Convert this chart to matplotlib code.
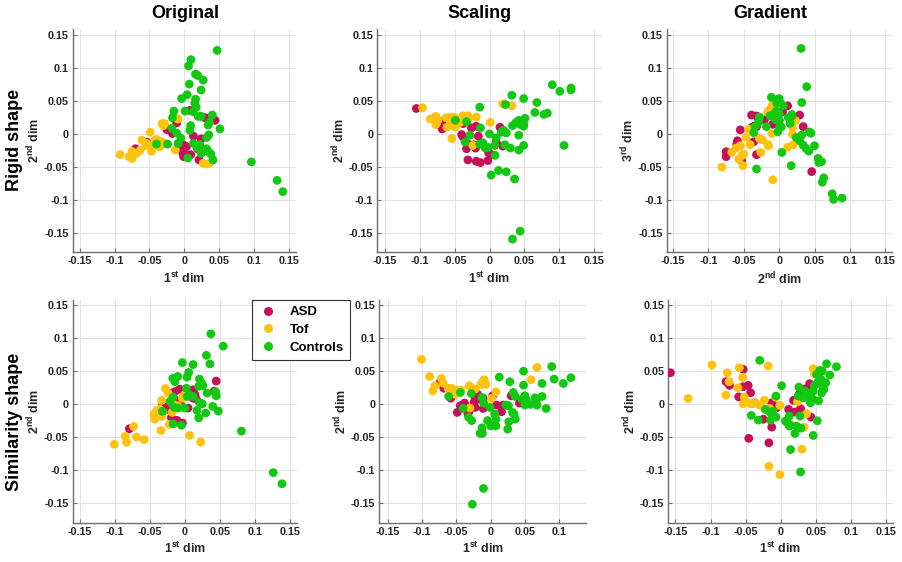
import matplotlib
matplotlib.use("Agg")
import matplotlib.pyplot as plt
from matplotlib.lines import Line2D
import numpy as np

plt.rcParams['font.family'] = ['Liberation Sans', 'DejaVu Sans']
plt.rcParams['mathtext.fontset'] = 'custom'
plt.rcParams['mathtext.rm'] = 'Liberation Sans:bold'
plt.rcParams['mathtext.bf'] = 'Liberation Sans:bold'
plt.rcParams['mathtext.it'] = 'Liberation Sans:bold'

# ---------------- data ----------------
GROUPS = ["ASD", "Tof", "Controls"]
COLORS = ["#C5115C", "#FFC20E", "#12C812"]
COL_TITLES = ["Original", "Scaling", "Gradient"]
ROW_TITLES = ["Rigid shape", "Similarity shape"]
TICKS = [-0.15, -0.1, -0.05, 0, 0.05, 0.1, 0.15]
TICK_LABELS = ["-0.15", "-0.1", "-0.05", "0", "0.05", "0.1", "0.15"]

# Rigid shape / Original
rig_orig_asd = [(0.008,0.035),(0.030,0.024),(0.044,0.020),(-0.011,0.016),(-0.025,0.006),(-0.017,0.000),
    (0.024,-0.008),(0.013,-0.004),(0.000,-0.018),(-0.004,-0.022),(-0.002,-0.030),(0.001,-0.032),
    (-0.001,-0.035),(0.009,-0.032),(0.019,-0.023),(0.024,-0.023),(0.021,-0.040),(-0.054,-0.013),
    (-0.050,-0.017),(-0.040,-0.016),(-0.070,-0.023),(-0.030,-0.015),(0.003,-0.020)]
rig_orig_tof = [(-0.092,-0.032),(-0.079,-0.035),(-0.075,-0.038),(-0.075,-0.027),(-0.068,-0.030),
    (-0.063,-0.025),(-0.061,-0.010),(-0.055,-0.018),(-0.049,0.002),(-0.048,-0.018),(-0.047,-0.027),
    (-0.042,-0.010),(-0.033,-0.012),(-0.035,-0.020),(-0.032,0.015),(-0.028,0.015),(-0.030,0.012),
    (-0.013,-0.025),(-0.011,0.023),(-0.009,0.022),(0.027,-0.045),(0.032,-0.046),(0.036,-0.045),
    (-0.040,-0.009),(-0.036,-0.020),(-0.054,-0.015)]
rig_orig_ctl = [(0.047,0.126),(0.0095,0.112),(0.006,0.1025),(0.016,0.090),(0.019,0.088),(0.027,0.081),
    (0.007,0.075),(0.024,0.066),(-0.004,0.053),(0.004,0.059),(0.016,0.052),(0.015,0.046),(0.017,0.040),
    (0.001,0.034),(-0.015,0.034),(0.013,0.033),(0.020,0.026),(0.024,0.026),(0.040,0.028),(-0.017,0.024),
    (0.036,0.017),(0.034,0.013),(0.051,0.007),(0.009,0.012),(0.008,0.005),(-0.018,0.008),(-0.011,0.0005),
    (-0.005,-0.007),(0.032,-0.006),(0.035,-0.002),(-0.024,-0.016),(0.013,-0.015),(0.022,-0.017),
    (0.018,-0.021),(0.032,-0.023),(0.024,-0.030),(0.034,-0.027),(0.038,-0.031),(0.041,-0.040),
    (0.005,-0.037),(-0.040,-0.016),(-0.009,-0.015),(0.096,-0.043),(0.133,-0.071),(0.141,-0.088)]

# Rigid shape / Scaling
rig_scal_asd = [(-0.105,0.038),(-0.066,0.019),(-0.068,0.007),(-0.038,0.015),(-0.040,-0.0015),(-0.038,-0.005),
    (-0.026,0.0086),(-0.019,0.011),(-0.032,-0.015),(-0.033,-0.023),(-0.023,-0.017),(-0.020,-0.022),
    (-0.031,-0.040),(-0.019,-0.042),(-0.013,-0.044),(-0.0024,-0.041),(-0.0014,-0.029),(0.0024,-0.032),
    (0.015,0.0096),(0.019,-0.019),(0.0096,-0.013),(-0.016,-0.004),(-0.048,0.021)]
rig_scal_tof = [(-0.096,0.039),(-0.085,0.022),(-0.077,0.026),(-0.074,0.020),(-0.077,0.0136),(-0.062,0.024),
    (-0.057,0.020),(-0.056,0.025),(-0.050,0.024),(-0.053,0.0136),(-0.049,0.010),(-0.048,0.016),
    (-0.038,0.027),(-0.031,0.027),(-0.030,0.023),(-0.019,0.025),(-0.054,-0.0076),(-0.061,0.0096),
    (0.001,0.017),(0.019,0.045),(0.032,0.042),(-0.024,-0.018),(-0.042,0.017),(-0.039,0.022)]
rig_scal_ctl = [(0.090,0.074),(0.101,0.064),(0.117,0.069),(0.117,0.066),(0.032,0.058),(0.049,0.053),
    (0.068,0.047),(0.023,0.044),(-0.014,0.040),(0.065,0.032),(0.078,0.029),(0.083,0.031),(0.051,0.023),
    (0.042,0.020),(0.038,0.017),(0.033,0.012),(0.043,0.014),(0.049,0.011),(0.049,0.015),(-0.033,0.018),
    (0.020,0.005),(0.017,0.002),(0.024,0.001),(-0.013,0.0086),(-0.028,-0.0025),(0.000,-0.0005),
    (0.042,-0.0025),(0.0096,-0.0066),(-0.035,-0.013),(-0.014,-0.016),(-0.0096,-0.014),(-0.006,-0.022),
    (-0.002,-0.021),(0.0077,-0.018),(0.022,-0.017),(0.030,-0.022),(0.049,-0.018),(0.042,-0.025),
    (0.008,-0.033),(0.107,-0.018),(0.0024,-0.063),(0.013,-0.056),(0.024,-0.058),(0.036,-0.069),
    (0.044,-0.148),(0.033,-0.160),(-0.049,0.020)]

# Rigid shape / Gradient
rig_grad_asd = [(0.012,0.042),(0.0047,0.033),(0.029,0.028),(0.034,0.0105),(0.0165,0.014),(-0.009,0.014),
    (-0.021,0.0206),(-0.014,0.034),(-0.039,0.028),(-0.032,0.0266),(-0.030,0.024),(-0.039,0.009),
    (-0.035,0.0115),(-0.032,0.0105),(-0.036,-0.0125),(-0.055,0.0055),(-0.059,-0.011),(-0.060,-0.016),
    (-0.075,-0.0276),(-0.075,-0.035),(-0.032,-0.032),(-0.053,-0.041),(0.046,-0.0577)]
rig_grad_tof = [(-0.081,-0.051),(-0.067,-0.0286),(-0.057,-0.0386),(-0.053,-0.0336),(-0.050,-0.031),
    (-0.051,-0.0487),(-0.055,-0.0186),(-0.047,-0.006),(-0.043,0.0065),(-0.037,0.0055),(-0.041,-0.017),
    (-0.028,-0.0075),(-0.024,-0.0095),(-0.026,-0.0286),(-0.016,-0.0166),(-0.015,-0.0186),(-0.010,0.000),
    (-0.016,0.0326),(-0.010,0.0426),(-0.004,0.0517),(-0.009,-0.0702),(0.012,-0.021),(0.020,-0.017),
    (0.019,-0.001),(0.023,0.0196),(0.019,0.009),(-0.061,-0.022)]
rig_grad_ctl = [(0.031,0.129),(0.039,0.071),(0.032,0.047),(-0.011,0.055),(0.000,0.053),(0.0014,0.047),
    (-0.0033,0.046),(0.006,0.042),(-0.013,0.027),(-0.008,0.029),(-0.018,0.0105),(-0.004,0.034),
    (0.000,0.030),(-0.009,0.026),(-0.005,0.021),(0.0005,0.020),(0.0014,0.0115),(-0.002,0.0025),
    (0.013,0.024),(0.018,0.026),(0.018,0.029),(0.003,0.010),(0.0155,0.0155),(-0.028,0.025),
    (-0.029,0.0175),(-0.034,0.0105),(-0.036,0.0015),(0.032,-0.002),(0.024,-0.006),(0.029,-0.011),
    (0.034,-0.0176),(0.038,-0.0226),(0.042,-0.0266),(0.043,0.0025),(0.045,0.0005),(0.050,-0.0186),
    (0.055,-0.0376),(0.056,-0.0437),(0.060,-0.0426),(0.0038,-0.0286),(0.017,-0.0487),(-0.032,-0.0537),
    (0.061,-0.0738),(0.063,-0.0672),(0.075,-0.0913),(0.077,-0.0998),(0.089,-0.0978)]

# Similarity shape / Original
sim_orig_asd = [(0.045,0.035),(0.042,0.0197),(-0.007,0.0227),(-0.0185,0.0167),(-0.014,0.019),(0.012,0.0217),
    (0.0147,0.014),(0.012,0.009),(0.0166,0.0076),(-0.032,-0.0025),(-0.0166,0.0015),(-0.012,0.0055),
    (-0.0085,-0.0035),(-0.0057,-0.001),(0.0047,-0.006),(-0.019,-0.0207),(-0.0166,-0.0237),(-0.011,-0.0247),
    (-0.0033,-0.0288),(-0.079,-0.0374),(-0.0237,-0.0086),(-0.027,-0.005)]
sim_orig_tof = [(-0.1005,-0.061),(-0.083,-0.058),(-0.085,-0.049),(-0.073,-0.034),(-0.069,-0.050),
    (-0.058,-0.054),(-0.034,-0.040),(-0.044,-0.016),(-0.0427,-0.0227),(-0.040,-0.0096),(-0.033,-0.0187),
    (-0.031,-0.0126),(-0.033,0.0055),(-0.0275,0.0237),(-0.0237,0.0167),(-0.022,-0.031),(-0.018,-0.0126),
    (-0.0175,0.0015),(0.000,0.014),(-0.0033,0.009),(0.007,-0.0475),(0.0227,-0.0576),(-0.010,-0.0025),
    (-0.036,-0.0076)]
sim_orig_ctl = [(0.0374,0.1066),(0.055,0.088),(0.031,0.074),(0.036,0.061),(-0.0033,0.063),(0.012,0.060),
    (0.0057,0.048),(0.0033,0.041),(-0.017,0.039),(-0.014,0.034),(-0.010,0.042),(0.021,0.038),(0.024,0.032),
    (0.026,0.028),(0.0024,0.024),(0.0062,0.014),(0.0033,0.0116),(0.020,0.027),(0.032,0.0167),(0.044,0.019),
    (0.045,0.0126),(0.021,0.0025),(0.025,0.0005),(0.0175,-0.0096),(0.030,-0.0136),(0.040,-0.0035),
    (0.048,-0.0106),(0.020,-0.021),(-0.0047,-0.032),(-0.0166,-0.030),(-0.015,-0.005),(-0.0095,-0.006),
    (-0.021,0.004),(-0.0166,0.0106),(-0.032,-0.011),(0.000,-0.006),(0.012,0.0116),(0.081,-0.041),
    (0.1265,-0.104),(0.139,-0.121)]

# Similarity shape / Scaling
sim_scal_asd = [(-0.073,0.034),(-0.068,0.0242),(-0.058,0.009),(-0.044,-0.0025),(-0.0485,-0.0126),
    (-0.033,-0.0146),(-0.031,-0.0106),(-0.038,0.0015),(-0.024,0.0136),(-0.0225,0.006),(-0.019,0.015),
    (-0.018,0.0076),(-0.024,0.0025),(-0.0225,-0.005),(-0.0108,-0.0066),(-0.0108,0.009),(0.003,0.0126),
    (0.0088,-0.0015),(0.016,-0.0116),(0.0186,-0.0015),(0.030,0.0126),(0.042,0.0015)]
sim_scal_tof = [(-0.1005,0.068),(-0.0887,0.042),(-0.081,0.0278),(-0.084,0.0202),(-0.0716,0.0389),
    (-0.069,0.0318),(-0.0618,0.0237),(-0.057,0.024),(-0.054,0.0187),(-0.051,0.0217),(-0.048,0.0177),
    (-0.031,0.0278),(-0.0265,0.0237),(-0.0225,0.0227),(-0.0142,0.030),(-0.0093,0.037),(-0.0069,0.030),
    (-0.0108,0.035),(0.0078,0.0187),(0.0015,0.0086),(-0.043,0.0212),(-0.030,-0.006),(0.059,0.037),
    (0.0676,0.0556),(-0.051,0.015)]
sim_scal_ctl = [(-0.061,0.0116),(-0.044,0.0177),(-0.040,-0.0066),(-0.032,-0.020),(-0.0275,-0.025),
    (-0.028,0.016),(-0.0127,0.010),(-0.010,0.0015),(-0.0152,-0.0444),(-0.0118,-0.0444),(-0.0123,-0.036),
    (-0.0044,-0.025),(0.0005,-0.033),(-0.001,-0.005),(0.0059,-0.015),(0.0078,-0.0227),(0.0078,-0.033),
    (0.0127,0.041),(0.0225,-0.0015),(0.026,-0.0025),(0.0265,-0.0268),(0.032,-0.0126),(0.034,-0.015),
    (0.036,-0.0227),(0.025,-0.038),(0.028,0.034),(0.033,0.0177),(0.036,0.0116),(0.048,0.050),
    (0.048,0.0288),(0.050,0.0126),(0.052,0.0066),(0.050,-0.0015),(0.046,0.0076),(0.0647,0.0096),
    (0.0667,0.0066),(0.0676,-0.0015),(0.075,0.0116),(0.075,0.0313),(0.081,-0.0066),(0.089,0.057),
    (0.0926,0.0379),(0.106,0.0313),(0.117,0.040),(0.058,-0.0005),(-0.0103,-0.128),(-0.0265,-0.152)]

# Similarity shape / Gradient
sim_grad_asd = [(-0.157,0.0476),(-0.078,0.034),(-0.073,0.0284),(-0.060,0.011),(-0.0535,0.0527),
    (-0.0535,0.0264),(-0.0465,0.0284),(-0.043,0.0172),(-0.0456,-0.052),(-0.037,0.002),(-0.025,-0.023),
    (-0.013,0.002),(-0.011,-0.0005),(-0.014,-0.007),(-0.013,-0.035),(-0.017,-0.0588),(-0.006,-0.0056),
    (0.011,-0.008),(0.018,0.0056),(0.020,-0.012),(0.026,0.0147),(0.028,-0.007),(0.035,0.0233),
    (0.041,0.031),(0.043,-0.0198)]
sim_grad_tof = [(-0.1317,0.0086),(-0.098,0.0593),(-0.076,0.0476),(-0.078,0.0137),(-0.0735,0.034),
    (-0.061,0.0248),(-0.059,0.0552),(-0.0545,0.0405),(-0.052,0.0106),(-0.0535,0.0005),(-0.044,0.001),
    (-0.0395,0.0005),(-0.036,0.002),(-0.0235,0.006),(-0.018,0.0578),(-0.0156,-0.0066),(-0.0076,0.0106),
    (-0.0014,-0.002),(-0.017,-0.0943),(-0.0014,-0.107),(0.0237,0.0035),(0.0366,-0.0147),(0.033,-0.035),
    (0.030,-0.0684),(0.046,0.0537),(0.0476,0.046),(-0.030,-0.0015)]
sim_grad_ctl = [(-0.030,0.0664),(0.001,0.0279),(-0.007,0.0122),(-0.042,-0.0172),(-0.032,-0.0243),
    (-0.022,-0.0081),(-0.0147,-0.0243),(-0.0156,-0.0122),(-0.011,-0.0106),(-0.007,-0.0198),(0.0066,-0.0258),
    (0.0095,-0.0284),(0.0119,-0.0334),(0.0138,-0.032),(0.0119,-0.0182),(0.020,-0.0446),(0.0223,-0.0334),
    (0.0271,-0.0182),(0.0285,-0.0365),(0.0256,0.0258),(0.0245,0.0122),(0.032,0.0096),(0.034,0.0198),
    (0.039,0.0157),(0.041,0.0096),(0.042,0.002),(0.046,0.0198),(0.0476,0.0284),(0.0508,0.0451),
    (0.053,0.034),(0.0537,0.005),(0.0518,-0.0253),(0.046,-0.0476),(0.0555,0.0512),(0.0589,0.0502),
    (0.057,0.0375),(0.059,0.0274),(0.061,0.0223),(0.064,0.0324),(0.058,0.0172),(0.065,0.0613),
    (0.0696,0.0441),(0.079,0.0568),(0.0138,-0.069),(0.028,-0.103),(0.045,0.008)]

PANELS = [
    [rig_orig_asd, rig_orig_tof, rig_orig_ctl],
    [rig_scal_asd, rig_scal_tof, rig_scal_ctl],
    [rig_grad_asd, rig_grad_tof, rig_grad_ctl],
    [sim_orig_asd, sim_orig_tof, sim_orig_ctl],
    [sim_scal_asd, sim_scal_tof, sim_scal_ctl],
    [sim_grad_asd, sim_grad_tof, sim_grad_ctl],
]
XLABELS = [r"1$^{st}$ dim", r"1$^{st}$ dim", r"2$^{nd}$ dim", r"1$^{st}$ dim", r"1$^{st}$ dim", r"1$^{st}$ dim"]
YLABELS = [r"2$^{nd}$ dim", r"2$^{nd}$ dim", r"3$^{rd}$ dim", r"2$^{nd}$ dim", r"2$^{nd}$ dim", r"2$^{nd}$ dim"]

# ---------------- layout ----------------
W, H = 902, 562
fig = plt.figure(figsize=(W / 100, H / 100), dpi=100)
fig.patch.set_facecolor("white")

# (left, top, right, bottom) in pixels
BOXES = [(72.7, 29.3, 296.0, 252.3), (377.3, 29.3, 601.7, 252.3), (666.7, 29.3, 892.3, 252.3),
         (72.7, 300.0, 296.7, 522.7), (379.3, 300.0, 586.0, 522.7), (668.3, 300.0, 892.7, 522.7)]
XLIMS = [(-0.16, 0.16), (-0.161, 0.161), (-0.159, 0.16), (-0.16, 0.16), (-0.162, 0.139), (-0.16, 0.159)]
YLIM = (-0.18, 0.158)

TXT = "#262626"
for i, (l, t, r, b) in enumerate(BOXES):
    ax = fig.add_axes([l / W, 1 - b / H, (r - l) / W, (b - t) / H])
    ax.set_xlim(*XLIMS[i])
    ax.set_ylim(*YLIM)
    xt = [(v, s) for v, s in zip(TICKS, TICK_LABELS) if XLIMS[i][0] <= v <= XLIMS[i][1]]
    ax.set_xticks([v for v, _ in xt])
    ax.set_xticklabels([s for _, s in xt])
    ax.set_yticks(TICKS)
    ax.set_yticklabels(TICK_LABELS)
    ax.grid(True, color="#E3E3E3", linewidth=0.8)
    ax.set_axisbelow(True)
    for sp in ["top", "right"]:
        ax.spines[sp].set_visible(False)
    for sp in ["left", "bottom"]:
        ax.spines[sp].set_color("#6E6E6E")
        ax.spines[sp].set_linewidth(1.0)
    ax.tick_params(direction="in", length=3, width=0.8, color="#6E6E6E",
                   labelsize=7.8, labelcolor=TXT, pad=3)
    for lab in ax.get_xticklabels() + ax.get_yticklabels():
        lab.set_fontweight("bold")
    for g, pts in enumerate(PANELS[i]):
        arr = np.array(pts)
        ax.scatter(arr[:, 0], arr[:, 1], s=40, color=COLORS[g], edgecolors="none", zorder=3 + g)
    ax.set_xlabel(XLABELS[i], fontsize=9, fontweight="bold", color=TXT, labelpad=3)
    ax.set_ylabel(YLABELS[i], fontsize=9, fontweight="bold", color=TXT, labelpad=1)

# column titles
for x, title in zip([185.5, 480.0, 770.0], COL_TITLES):
    fig.text(x / W, 1 - 13 / H, title, ha="center", va="center", fontsize=13,
             fontweight="bold", color="black")
# row titles
for y, title in zip([140.0, 422.0], ROW_TITLES):
    fig.text(14.5 / W, 1 - y / H, title, ha="center", va="center", rotation=90,
             fontsize=13, fontweight="bold", color="black")

# legend
handles = [Line2D([0], [0], marker="o", linestyle="none", markersize=6.5,
                  markerfacecolor=c, markeredgecolor="none") for c in COLORS]
leg = fig.legend(handles, GROUPS, loc="upper left",
                 bbox_to_anchor=(252 / W, 1 - 300 / H), borderaxespad=0,
                 frameon=True, fancybox=False, framealpha=1, edgecolor="#333333",
                 prop={"weight": "bold", "size": 9.5}, handlelength=1.6,
                 handletextpad=0.8, labelspacing=0.42, borderpad=0.45)
leg.get_frame().set_linewidth(0.8)
for t in leg.get_texts():
    t.set_color("black")

fig.savefig("out.png", dpi=100, facecolor="white")
